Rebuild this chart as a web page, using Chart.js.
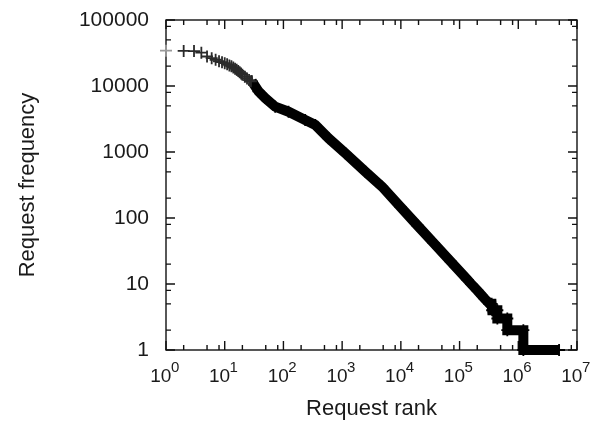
<!DOCTYPE html>
<html>
<head>
<meta charset="utf-8">
<script src="https://cdn.jsdelivr.net/npm/chart.js@4.4.1/dist/chart.umd.min.js"></script>
<style>
  html, body { margin:0; padding:0; background:#fff; }
</style>
</head>
<body>
<canvas id="rankChart" width="600" height="427"></canvas>
<script>
// top of the curve, single "+" markers
const headRank = [1,2,3,4,5,6,7,8,9,10,11,12,13,14,15,16,17,18,19,20,22,24,26,28];
const headFreq = [34300,34000,33800,32000,28000,26400,25000,23700,23000,22200,21300,20500,19900,19000,18300,17600,16900,16200,15500,14800,13800,13000,12300,11800];

// dense part of the curve, markers overlap into a thick trace
const bodyRank = [29,37.6,48.9,72.4,122,235,349,588,1135,2490,4800,9840,19200,36000,70200,137000,158000,200000,267000,324000,352000,359000,440000,440000,650000,650000,1220000,1220000,4950000];
const bodyFreq = [11780,8310,6580,4860,4080,3050,2570,1610,955,503,298,147,77,42,22,11.5,10,8,6,5,5,4,4,3,3,2,2,1,1];

const xTicks = [1,10,100,1000,10000,100000,1000000,10000000];
const yTicks = [1,10,100,1000,10000,100000];
const minorSteps = [2,5,8];

const FONT = '"Liberation Sans", Arial, Helvetica, sans-serif';

const frame = {
    id:'frame',
    beforeDatasetsDraw(chart){
        const {ctx, chartArea:a, scales:{x,y}} = chart;
        ctx.save();
        ctx.strokeStyle = '#111';
        ctx.lineWidth = 1.4;
        ctx.strokeRect(a.left, a.top, a.right-a.left, a.bottom-a.top);

        ctx.beginPath();
        xTicks.forEach((v,i)=>{
            const px = x.getPixelForValue(v);
            ctx.moveTo(px, a.bottom); ctx.lineTo(px, a.bottom-9);
            ctx.moveTo(px, a.top); ctx.lineTo(px, a.top+9);
            if(i < xTicks.length-1){
                minorSteps.forEach(m=>{
                    const mp = x.getPixelForValue(v*m);
                    ctx.moveTo(mp, a.bottom); ctx.lineTo(mp, a.bottom-5);
                    ctx.moveTo(mp, a.top); ctx.lineTo(mp, a.top+5);
                });
            }
        });
        yTicks.forEach((v,i)=>{
            const py = y.getPixelForValue(v);
            ctx.moveTo(a.left, py); ctx.lineTo(a.left+9, py);
            ctx.moveTo(a.right, py); ctx.lineTo(a.right-9, py);
            if(i < yTicks.length-1){
                minorSteps.forEach(m=>{
                    const mp = y.getPixelForValue(v*m);
                    ctx.moveTo(a.left, mp); ctx.lineTo(a.left+5, mp);
                    ctx.moveTo(a.right, mp); ctx.lineTo(a.right-5, mp);
                });
            }
        });
        ctx.stroke();

        // x tick labels as 10 with a raised exponent
        ctx.fillStyle = '#1a1a1a';
        ctx.textBaseline = 'alphabetic';
        ctx.textAlign = 'left';
        xTicks.forEach(v=>{
            const px = x.getPixelForValue(v);
            const e = String(Math.round(Math.log10(v)));
            ctx.font = '19px ' + FONT;
            const w1 = ctx.measureText('10').width;
            ctx.font = '15px ' + FONT;
            const w2 = ctx.measureText(e).width;
            const sx = px - (w1+w2)/2 - 1;
            ctx.font = '19px ' + FONT;
            ctx.fillText('10', sx, a.bottom+32);
            ctx.font = '15px ' + FONT;
            ctx.fillText(e, sx+w1-0.5, a.bottom+22);
        });
        ctx.restore();
    }
};

const headColors = headRank.map((r,i)=> i===0 ? '#9a9a9a' : '#2a2a2a');

new Chart(document.getElementById('rankChart'), {
    type:'scatter',
    data:{
        datasets:[
            {
                label:'head',
                data: headRank.map((r,i)=>({x:r, y:headFreq[i]})),
                showLine:false,
                pointStyle:'cross',
                pointRadius:6,
                pointBorderWidth:1.8,
                pointBorderColor:headColors,
                clip:false
            },
            {
                label:'body',
                data: bodyRank.map((r,i)=>({x:r, y:bodyFreq[i]})),
                showLine:true,
                borderColor:'#000',
                borderWidth:10,
                borderJoinStyle:'miter',
                borderCapStyle:'butt',
                tension:0,
                pointStyle:'cross',
                pointRadius:6,
                pointBorderWidth:1.8,
                pointBorderColor:'#000',
                clip:false
            }
        ]
    },
    options:{
        responsive:false,
        animation:false,
        devicePixelRatio:1,
        layout:{ padding:{ top:20, right:23, left:0, bottom:0 } },
        plugins:{
            legend:{ display:false },
            tooltip:{ enabled:false }
        },
        scales:{
            x:{
                type:'logarithmic',
                min:1,
                max:10000000,
                grid:{ display:false },
                border:{ display:false },
                afterBuildTicks: s => { s.ticks = xTicks.map(v=>({value:v})); },
                afterFit: s => { s.height = 77; s.paddingLeft = 0; s.paddingRight = 0; },
                ticks:{ display:false },
                title:{
                    display:true,
                    text:'Request rank',
                    color:'#1a1a1a',
                    font:{ family:FONT, size:22 },
                    padding:{ top:0, bottom:5 }
                }
            },
            y:{
                type:'logarithmic',
                min:1,
                max:100000,
                grid:{ display:false, drawTicks:false },
                border:{ display:false },
                afterBuildTicks: s => { s.ticks = yTicks.map(v=>({value:v})); },
                afterFit: s => { s.width = 166; s.paddingTop = 0; s.paddingBottom = 0; },
                ticks:{
                    padding:17,
                    color:'#1a1a1a',
                    font:{ family:FONT, size:21 },
                    callback: v => String(v)
                },
                title:{
                    display:true,
                    text:'Request frequency',
                    color:'#1a1a1a',
                    font:{ family:FONT, size:22 },
                    padding:{ top:15, bottom:0 }
                }
            }
        }
    },
    plugins:[frame]
});
</script>
</body>
</html>
